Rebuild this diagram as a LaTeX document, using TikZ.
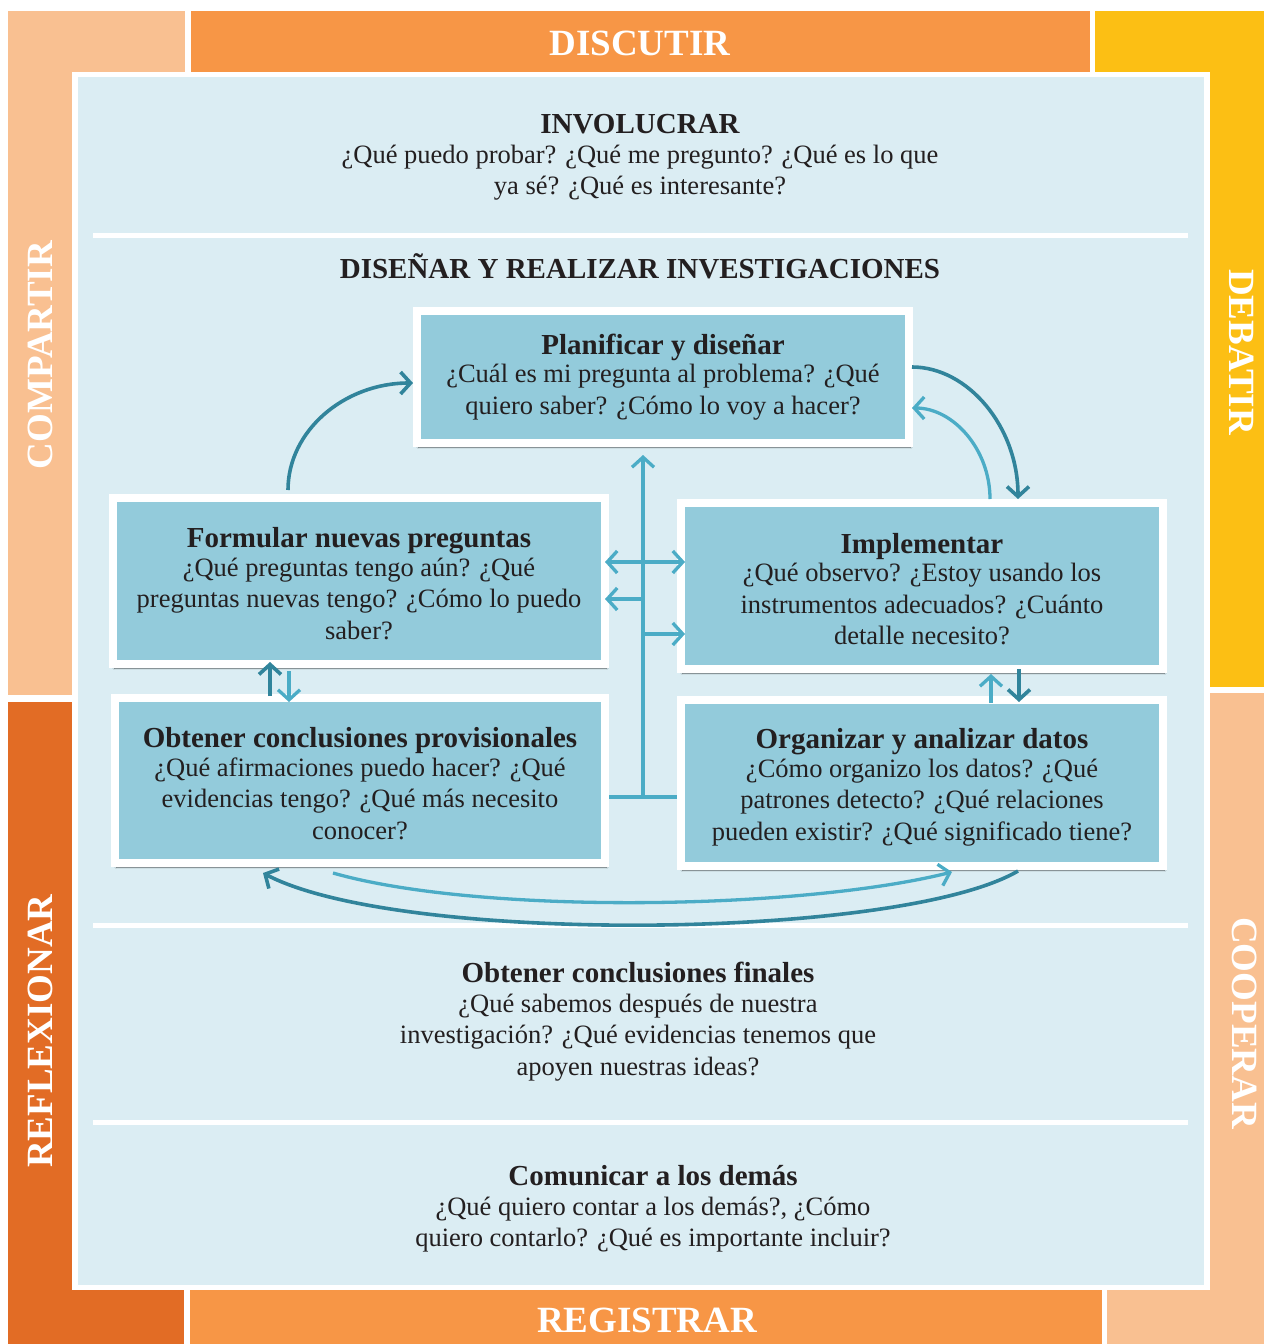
\documentclass[tikz,border=0pt]{standalone}
\usepackage{fontspec}
\setmainfont{Liberation Serif}
\usetikzlibrary{arrows.meta,shadows.blur,calc}
\definecolor{panelc}{HTML}{DBEDF3}
\definecolor{boxc}{HTML}{93CBDB}
\definecolor{dteal}{HTML}{31849B}
\definecolor{lteal}{HTML}{4BACC6}
\definecolor{orng}{HTML}{F79646}
\definecolor{lorng}{HTML}{F9C091}
\definecolor{yell}{HTML}{FCBF14}
\definecolor{dorng}{HTML}{E26C25}
\definecolor{txt}{HTML}{231F20}
\newcommand\myTitle{\fontsize{29}{31.5}\selectfont\bfseries}
\newcommand\myBody{\fontsize{26.5}{31.5}\selectfont}
\begin{document}
\begin{tikzpicture}[x=1pt,y=-1pt,
  band/.style={white,font=\fontsize{37}{40}\selectfont\bfseries,inner sep=0pt},
  stepbox/.style={fill=boxc,draw=white,line width=8pt,inner sep=0pt,
    blur shadow={shadow xshift=1.5pt,shadow yshift=-4pt,shadow blur steps=6,shadow opacity=60}},
  para/.style={align=center,text=txt,inner sep=0pt,font=\myBody},
  divider/.style={white,line width=5pt},
  larrow/.style={draw=lteal,line width=3.3pt,-{Straight Barb[length=10pt,width=22pt,line width=3.3pt]}},
  darrow/.style={draw=dteal,line width=3.6pt,-{Straight Barb[length=10pt,width=22pt,line width=3.6pt]}}
]
\useasboundingbox (0,0) rectangle (1264,1344);
\fill[white] (0,0) rectangle (1264,1344);
% outer bands
\fill[lorng] (8,11) rectangle (185,695);
\fill[orng] (191,11) rectangle (1090,72);
\fill[yell] (1095,11) rectangle (1264,687);
\fill[dorng] (8,702) rectangle (184,1344);
\fill[orng] (190,1290) rectangle (1102,1344);
\fill[lorng] (1107,693) rectangle (1264,1344);
% main panel
\draw[fill=panelc,draw=white,line width=5.5pt] (75,74.5) rectangle (1207,1287.5);
% dividers
\draw[divider] (93,235) -- (1188,235);
\draw[divider] (93,925) -- (1188,925);
\draw[divider] (93,1122) -- (1188,1122);
% band labels
\node[band] (discutir) at (640,43) {DISCUTIR};
\node[band] (registrar) at (647,1320) {REGISTRAR};
\node[band,rotate=90] (compartir) at (40,355) {COMPARTIR};
\node[band,rotate=90] (reflexionar) at (40,1031) {REFLEXIONAR};
\node[band,rotate=-90] (debatir) at (1242,352) {DEBATIR};
\node[band,rotate=-90] (cooperar) at (1245,1023) {COOPERAR};
% panel texts
\node[para] (involucrar) at (640,157.5) {{\myTitle INVOLUCRAR}\\[-2pt]
  ¿Qué puedo probar? ¿Qué me pregunto? ¿Qué es lo que\\ ya sé? ¿Qué es interesante?};
\node[para,font=\myTitle] (disenar) at (640,266) {DISEÑAR Y REALIZAR INVESTIGACIONES};
\node[para] (finales) at (638,1021.5) {{\myTitle Obtener conclusiones finales}\\[-2pt]
  ¿Qué sabemos después de nuestra\\ investigación? ¿Qué evidencias tenemos que\\ apoyen nuestras ideas?};
\node[para] (comunicar) at (653,1209) {{\myTitle Comunicar a los demás}\\[-2pt]
  ¿Qué quiero contar a los demás?, ¿Cómo\\ quiero contarlo? ¿Qué es importante incluir?};
% boxes
\node[stepbox,minimum width=492pt,minimum height=132pt] (plan) at (663,377) {};
\node[stepbox,minimum width=492pt,minimum height=166pt] (form) at (359,581) {};
\node[stepbox,minimum width=482pt,minimum height=166pt] (impl) at (922,586) {};
\node[stepbox,minimum width=490pt,minimum height=165pt] (obt) at (360,780.5) {};
\node[stepbox,minimum width=482pt,minimum height=166pt] (org) at (922,783) {};
% box texts
\node[para] (planT) at (plan.center)
  {{\myTitle Planificar y diseñar}\\[-3pt] ¿Cuál es mi pregunta al problema? ¿Qué\\ quiero saber? ¿Cómo lo voy a hacer?};
\node[para] (formT) at ([yshift=-2.5pt]form.center)
  {{\myTitle Formular nuevas preguntas}\\[-3pt] ¿Qué preguntas tengo aún? ¿Qué\\ preguntas nuevas tengo? ¿Cómo lo puedo\\ saber?};
\node[para] (implT) at ([yshift=-3pt]impl.center)
  {{\myTitle Implementar}\\[-3pt] ¿Qué observo? ¿Estoy usando los\\ instrumentos adecuados? ¿Cuánto\\ detalle necesito?};
\node[para] (obtT) at ([yshift=-3pt]obt.center)
  {{\myTitle Obtener conclusiones provisionales}\\[-3pt] ¿Qué afirmaciones puedo hacer? ¿Qué\\ evidencias tengo? ¿Qué más necesito\\ conocer?};
\node[para] (orgT) at ([yshift=-4.5pt]org.center)
  {{\myTitle Organizar y analizar datos}\\[-3pt] ¿Cómo organizo los datos? ¿Qué\\ patrones detecto? ¿Qué relaciones\\ pueden existir? ¿Qué significado tiene?};
% curved arrows top
\draw[darrow] ([xshift=-71pt,yshift=4pt]form.north) .. controls (288,431) and (344,383) .. ([yshift=-6pt]plan.west);
\draw[darrow] ([xshift=-1pt,yshift=10pt]plan.east) .. controls (968,367) and (1018,427) .. ([xshift=96pt]impl.north);
\draw[larrow] ([xshift=68pt]impl.north) .. controls (990,449) and (953,408) .. ([xshift=-1pt,yshift=-31pt]plan.east);
% central T connector
\coordinate (tb) at (643,797);
\coordinate (vt) at (643,455);
\coordinate (l1) at (643,599);
\coordinate (r1) at (643,634);
\draw[draw=lteal,line width=3.3pt] (obt.east |- tb) -- (org.west |- tb);
\draw[larrow] (tb) -- (vt);
\draw[larrow,{Straight Barb[length=10pt,width=22pt,line width=3.3pt]}-{Straight Barb[length=10pt,width=22pt,line width=3.3pt]}]
  ([xshift=-4pt,yshift=19pt]form.east) -- ([xshift=8pt,yshift=24pt]impl.west);
\draw[larrow] (l1) -- ([xshift=-4pt,yshift=-18pt]form.east);
\draw[larrow] (r1) -- ([xshift=8pt,yshift=-48pt]impl.west);
% vertical pairs
\draw[darrow] ([xshift=-90pt,yshift=-2pt]obt.north) -- ([xshift=-89pt,yshift=6pt]form.south);
\draw[larrow] ([xshift=-70pt,yshift=-3pt]form.south) -- ([xshift=-71pt,yshift=-8pt]obt.north);
\draw[larrow] ([xshift=69pt,yshift=-7pt]org.north) -- ([xshift=69pt,yshift=-1pt]impl.south);
\draw[darrow] ([xshift=97pt,yshift=4pt]impl.south) -- ([xshift=97pt,yshift=-6pt]org.north);
% bottom arcs
\draw[larrow] ([xshift=-27pt,yshift=-6pt]obt.south) .. controls (480,915) and (800,910) .. ([xshift=30pt,yshift=-2pt]org.south);
\draw[darrow] ([xshift=96pt,yshift=-1pt]org.south) .. controls (900,940) and (400,945) .. ([xshift=-97pt,yshift=-6pt]obt.south);
\end{tikzpicture}
\end{document}
